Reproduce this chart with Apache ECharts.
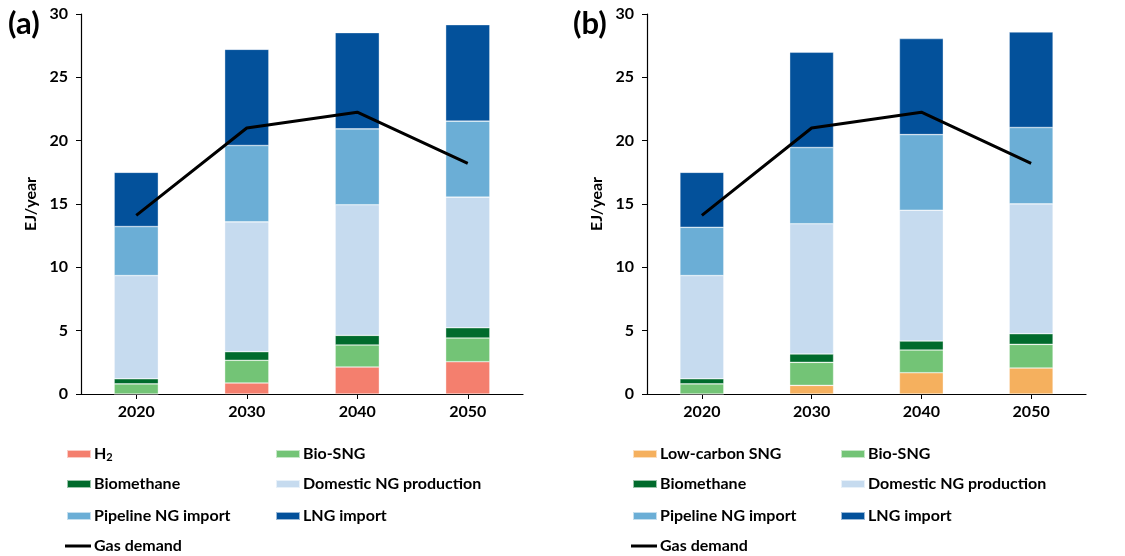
<!DOCTYPE html>
<html>
<head>
<meta charset="utf-8">
<script src="https://cdn.jsdelivr.net/npm/echarts@6/dist/echarts.min.js"></script>
<style>
  html, body { margin: 0; padding: 0; background: #fff; }
  #chart { width: 1125px; height: 556px; }
</style>
</head>
<body>
<div id="chart"></div>
<script>
// Gas supply mix by source (EJ/year) and gas demand, two scenarios
const years = ['2020', '2030', '2040', '2050'];
const yTicks = [0, 5, 10, 15, 20, 25, 30];

// Scenario (a)
const h2A          = [0.00, 0.87, 2.13, 2.55];
const bioSngA      = [0.80, 1.79, 1.74, 1.87];
const biomethaneA  = [0.40, 0.68, 0.76, 0.81];
const domesticA    = [8.15, 10.25, 10.31, 10.31];
const pipelineA    = [3.87, 6.03, 5.99, 6.00];
const lngA         = [4.28, 7.59, 7.60, 7.62];
const demandA      = [14.1, 21.0, 22.25, 18.2];

// Scenario (b)
const lowCarbonB   = [0.00, 0.68, 1.68, 2.05];
const bioSngB      = [0.80, 1.82, 1.79, 1.87];
const biomethaneB  = [0.40, 0.66, 0.71, 0.84];
const domesticB    = [8.15, 10.28, 10.33, 10.25];
const pipelineB    = [3.81, 6.02, 5.97, 6.03];
const lngB         = [4.34, 7.52, 7.58, 7.54];
const demandB      = [14.1, 21.0, 22.25, 18.2];

const colors = {
  'H₂': '#F47F6E',
  'Low-carbon SNG': '#F5B05E',
  'Bio-SNG': '#73C476',
  'Biomethane': '#006B2C',
  'Domestic NG production': '#C6DBEF',
  'Pipeline NG import': '#6BAED6',
  'LNG import': '#03519B',
  'Gas demand': '#000000'
};

const FONT = 'Lato';
const FS = 16;

const chart = echarts.init(document.getElementById('chart'), null, { renderer: 'canvas' });

function barSeries(name, data, idx) {
  return {
    name, type: 'bar', stack: 'supply' + idx, data,
    xAxisIndex: idx, yAxisIndex: idx,
    barWidth: '40%',
    itemStyle: { color: colors[name], borderColor: 'rgba(255,255,255,0.6)', borderWidth: 0.6 },
    emphasis: { disabled: true }
  };
}
function lineSeries(data, idx) {
  return {
    name: 'Gas demand', type: 'line', data,
    xAxisIndex: idx, yAxisIndex: idx,
    showSymbol: false, symbol: 'none',
    itemStyle: { color: '#000' },
    lineStyle: { color: '#000', width: 3 },
    z: 5
  };
}

const axisText = { color: '#000', fontFamily: FONT, fontWeight: 'bold', fontSize: FS };

function xAxis(idx) {
  return {
    type: 'category', gridIndex: idx, data: years,
    axisLine: { lineStyle: { color: '#000', width: 1.2 } },
    axisTick: { show: true, alignWithLabel: true, length: 5, lineStyle: { color: '#000' } },
    axisLabel: Object.assign({ margin: 10 }, axisText)
  };
}
function yAxis(idx) {
  return {
    type: 'value', gridIndex: idx, min: 0, max: 30, interval: 5,
    name: 'EJ/year', nameLocation: 'middle', nameGap: 42,
    nameTextStyle: { color: '#000', fontFamily: FONT, fontWeight: 'bold', fontSize: FS },
    axisLine: { show: true, lineStyle: { color: '#000', width: 1.2 } },
    axisTick: { show: true, length: 5, lineStyle: { color: '#000' } },
    splitLine: { show: false },
    axisLabel: Object.assign({ margin: 13, formatter: v => yTicks.includes(v) ? String(v) : '' }, axisText)
  };
}

// Legend entries: [name, left, top]
const rowTops = [446, 476, 508, 538];
const legendA = [
  ['H₂', 66, rowTops[0]], ['Bio-SNG', 275, rowTops[0]],
  ['Biomethane', 66, rowTops[1]], ['Domestic NG production', 275, rowTops[1]],
  ['Pipeline NG import', 66, rowTops[2]], ['LNG import', 275, rowTops[2]],
  ['Gas demand', 65, rowTops[3]]
];
const legendB = [
  ['Low-carbon SNG', 632, rowTops[0]], ['Bio-SNG', 840, rowTops[0]],
  ['Biomethane', 632, rowTops[1]], ['Domestic NG production', 840, rowTops[1]],
  ['Pipeline NG import', 632, rowTops[2]], ['LNG import', 840, rowTops[2]],
  ['Gas demand', 631, rowTops[3]]
];
const legendTextStyle = {
  color: '#000', fontFamily: FONT, fontWeight: 'bold', fontSize: FS, padding: [0, 0, 0, -2],
  rich: {
    main: { color: '#000', fontFamily: FONT, fontWeight: 'bold', fontSize: FS },
    sub: { color: '#000', fontFamily: FONT, fontWeight: 'bold', fontSize: 11, padding: [7, 0, 0, 0] }
  }
};
const legends = legendA.concat(legendB).map(([name, left, top]) => ({
  data: [{ name, icon: 'rect', itemStyle: { color: colors[name] } }],
  left, top, padding: 0,
  itemWidth: name === 'Gas demand' ? 26 : 24,
  itemHeight: name === 'Gas demand' ? 3 : 8,
  selectedMode: false,
  formatter: n => n === 'H₂' ? '{main|H}{sub|2}' : n,
  textStyle: legendTextStyle
}));

const option = {
  backgroundColor: '#fff',
  animation: false,
  title: [
    { text: '(a)', left: 8, top: 8, padding: 0, textStyle: { fontFamily: FONT, fontWeight: 'bold', fontSize: 31, color: '#000' } },
    { text: '(b)', left: 573, top: 8, padding: 0, textStyle: { fontFamily: FONT, fontWeight: 'bold', fontSize: 31, color: '#000' } }
  ],
  grid: [
    { left: 81, right: 602, top: 14, bottom: 162 },
    { left: 647, right: 39, top: 14, bottom: 162 }
  ],
  xAxis: [xAxis(0), xAxis(1)],
  yAxis: [yAxis(0), yAxis(1)],
  legend: legends,
  series: [
    barSeries('H₂', h2A, 0),
    barSeries('Bio-SNG', bioSngA, 0),
    barSeries('Biomethane', biomethaneA, 0),
    barSeries('Domestic NG production', domesticA, 0),
    barSeries('Pipeline NG import', pipelineA, 0),
    barSeries('LNG import', lngA, 0),
    lineSeries(demandA, 0),
    barSeries('Low-carbon SNG', lowCarbonB, 1),
    barSeries('Bio-SNG', bioSngB, 1),
    barSeries('Biomethane', biomethaneB, 1),
    barSeries('Domestic NG production', domesticB, 1),
    barSeries('Pipeline NG import', pipelineB, 1),
    barSeries('LNG import', lngB, 1),
    lineSeries(demandB, 1)
  ]
};

chart.setOption(option);
</script>
</body>
</html>
